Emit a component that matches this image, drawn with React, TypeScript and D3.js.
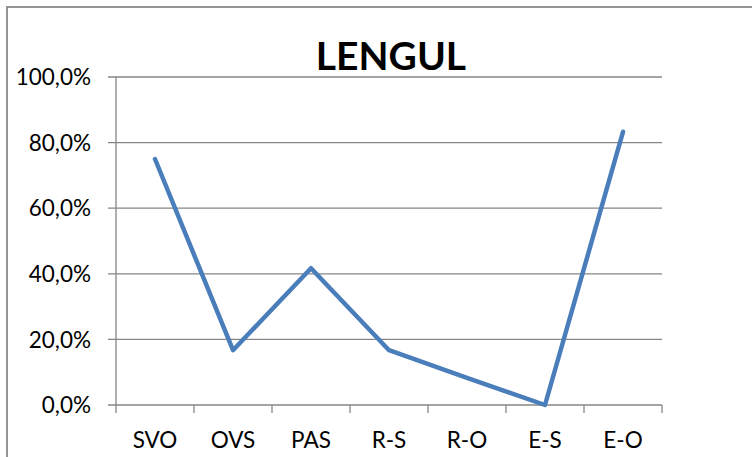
import React from "react";
import * as d3 from "d3";

const categories = ["SVO", "OVS", "PAS", "R-S", "R-O", "E-S", "E-O"];
const values = [0.75, 0.167, 0.417, 0.167, 0.083, 0.0, 0.833];
const yTicks = [0, 0.2, 0.4, 0.6, 0.8, 1.0];
const title = "LENGUL";

const W = 752;
const H = 457;
const left = 116;
const right = 662;
const top = 77;
const bottom = 405;

const fmt = (v: number) => (v * 100).toFixed(1).replace(".", ",") + "%";

export default function App() {
  const x = d3.scaleBand<string>().domain(categories).range([left, right]).padding(0);
  const y = d3.scaleLinear().domain([0, 1]).range([bottom, top]);
  const line = d3
    .line<number>()
    .x((_, i) => (x(categories[i]) as number) + x.bandwidth() / 2)
    .y((d) => y(d));
  const grid = "#868686";
  const font = "Lato, 'Open Sans', sans-serif";
  const boundaries = categories.map((c) => x(c) as number).concat([right]);
  return (
    <div style={{ position: "fixed", left: 0, top: 0 }}>
      <svg width={W} height={H} style={{ display: "block", background: "#fff" }}>
        <rect x={7} y={7} width={900} height={900} fill="#fff" stroke="#8a8a8a" strokeWidth={1.8} />
        <text
          x={(left + right) / 2 + 2}
          y={70}
          textAnchor="middle"
          fontFamily={font}
          fontWeight={700}
          fontSize={39}
          fill="#000"
        >
          {title}
        </text>
        {yTicks.map((t) => (
          <g key={t}>
            <line x1={left - 8} x2={right} y1={y(t)} y2={y(t)} stroke={grid} strokeWidth={1.3} />
            <text
              x={91}
              y={y(t)}
              dy="0.36em"
              textAnchor="end"
              fontFamily={font}
              fontSize={22.5}
              fill="#000"
            >
              {fmt(t)}
            </text>
          </g>
        ))}
        <line x1={left} x2={left} y1={top} y2={bottom} stroke={grid} strokeWidth={1.3} />
        {boundaries.map((b, i) => (
          <line key={i} x1={b} x2={b} y1={bottom} y2={bottom + 8} stroke={grid} strokeWidth={1.3} />
        ))}
        {categories.map((c) => (
          <text
            key={c}
            x={(x(c) as number) + x.bandwidth() / 2}
            y={448}
            textAnchor="middle"
            fontFamily={font}
            fontSize={22.5}
            fill="#000"
          >
            {c}
          </text>
        ))}
        <path
          d={line(values) || ""}
          fill="none"
          stroke="#4a7ebb"
          strokeWidth={4.5}
          strokeLinecap="round"
          strokeLinejoin="round"
        />
      </svg>
    </div>
  );
}
